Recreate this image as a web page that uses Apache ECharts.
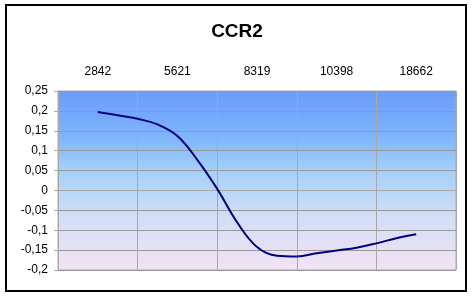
<!DOCTYPE html>
<html>
<head>
<meta charset="utf-8">
<script src="https://cdn.jsdelivr.net/npm/echarts@6/dist/echarts.min.js"></script>
<style>
html,body{margin:0;padding:0;background:#fff;}
#c{width:474px;height:299px;}
</style>
</head>
<body>
<div id="c"></div>
<script>
var categories = ['2842', '5621', '8319', '10398', '18662'];
// positions along the category axis (in category units, 0.5 = centre of first category)
var linePos = [0.5, 0.75, 1.0, 1.25, 1.5, 1.75, 2.0, 2.25, 2.5, 2.75, 3.0, 3.25, 3.5, 3.75, 4.0, 4.25, 4.5];
var lineVal = [0.197, 0.189, 0.180, 0.166, 0.137, 0.077, 0.004, -0.080, -0.142, -0.164, -0.166, -0.158, -0.151, -0.144, -0.133, -0.120, -0.110];
var yMin = -0.2, yMax = 0.25, yStep = 0.05;
var title = 'CCR2';

var pts = linePos.map(function (p, i) { return [p, lineVal[i]]; });
var chart = echarts.init(document.getElementById('c'), null, {renderer: 'canvas'});
var font = 'Liberation Sans, Arial, sans-serif';
chart.setOption({
  animation: false,
  title: {
    text: title, left: 'center', top: 17,
    textStyle: {fontFamily: font, fontSize: 19, fontWeight: 'bold', color: '#000'}
  },
  graphic: [{
    type: 'rect', shape: {x: 6, y: 5, width: 460, height: 286},
    style: {fill: 'none', stroke: '#000', lineWidth: 2}, z: 100
  }],
  grid: {
    left: 58, top: 91, width: 398, height: 179, show: true,
    borderColor: '#a8a8a8', borderWidth: 1,
    backgroundColor: {
      type: 'linear', x: 0, y: 0, x2: 0, y2: 1,
      colorStops: [
        {offset: 0, color: '#6a9cf8'},
        {offset: 0.25, color: '#7eb4fb'},
        {offset: 0.45, color: '#a6d0f8'},
        {offset: 0.7, color: '#d2def6'},
        {offset: 1, color: '#f4e2f4'}
      ]
    }
  },
  xAxis: [{
    type: 'category', position: 'top', data: categories, boundaryGap: true,
    axisLine: {show: true, lineStyle: {color: '#a8a8a8'}},
    axisTick: {show: true, length: 6, lineStyle: {color: '#a8a8a8'}},
    axisLabel: {fontFamily: font, fontSize: 12, color: '#000', margin: 13},
    splitLine: {show: true, lineStyle: {color: '#a8a8a8', width: 1}}
  }, {
    type: 'value', min: 0, max: categories.length, show: false
  }],
  yAxis: {
    type: 'value', min: yMin, max: yMax, interval: yStep,
    axisLine: {show: true, lineStyle: {color: '#a8a8a8'}},
    axisTick: {show: true, length: 4, lineStyle: {color: '#a8a8a8'}},
    axisLabel: {
      fontFamily: font, fontSize: 12, color: '#000', margin: 10,
      formatter: function (v) { return String(parseFloat(v.toFixed(2))).replace('.', ','); }
    },
    splitLine: {show: true, lineStyle: {color: '#999999', width: 1}}
  },
  series: [{
    type: 'line', xAxisIndex: 1, data: pts, smooth: 0.4, showSymbol: false,
    lineStyle: {color: '#000080', width: 2}
  }]
});
</script>
</body>
</html>
